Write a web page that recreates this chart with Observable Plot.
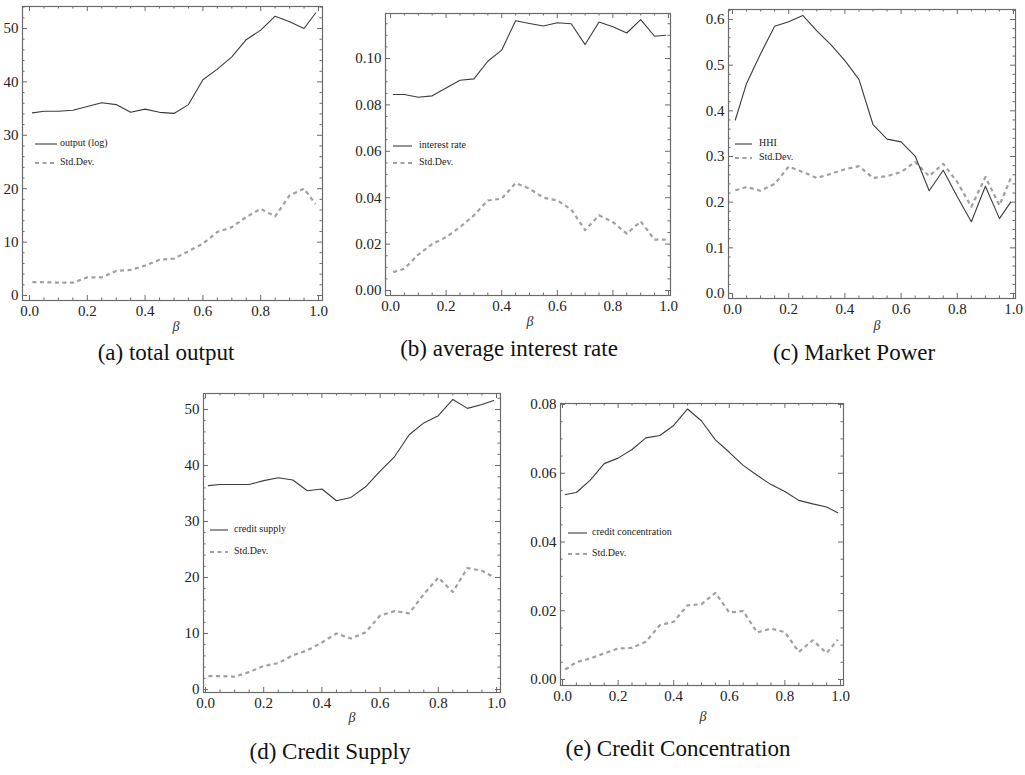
<!DOCTYPE html>
<html><head><meta charset="utf-8">
<script src="https://cdn.jsdelivr.net/npm/d3@7"></script>
<script src="https://cdn.jsdelivr.net/npm/@observablehq/plot@0.6"></script>
<style>
body{margin:0;background:#fff;}
#root{position:relative;width:1025px;height:775px;overflow:hidden;font-family:"Liberation Serif","DejaVu Serif",serif;background:#fff;}
.plotbox{position:absolute;}
.cap{position:absolute;font-size:23px;white-space:nowrap;transform:translate(-50%,-50%);color:#111;line-height:1;}
.beta{position:absolute;font-size:14px;font-style:italic;transform:translate(-50%,-50%);color:#333;line-height:1;}
.leg{position:absolute;font-size:10px;white-space:nowrap;color:#222;line-height:1;}
</style></head><body><div id="root"></div>
<script>
// ---- data ----
const beta = [0.01,0.05,0.10,0.15,0.20,0.25,0.30,0.35,0.40,0.45,0.50,0.55,0.60,0.65,0.70,0.75,0.80,0.85,0.90,0.95,0.99];

const outputLog = [34.2,34.5,34.5,34.7,35.4,36.1,35.75,34.3,34.9,34.3,34.1,35.75,40.4,42.4,44.7,47.9,49.7,52.3,51.25,50.0,52.9];
const outputSD  = [2.5,2.5,2.4,2.4,3.4,3.4,4.6,4.8,5.6,6.7,6.9,8.3,9.7,11.9,12.8,14.7,16.25,14.8,18.75,20.0,17.1];

const interestRate = [0.0845,0.0845,0.0833,0.0839,0.0873,0.0906,0.0912,0.0988,0.1036,0.1163,0.1151,0.1140,0.1154,0.1150,0.1060,0.1157,0.1137,0.1110,0.1168,0.1096,0.1100];
const interestSD   = [0.0079,0.0094,0.0155,0.0200,0.0230,0.0273,0.0324,0.0388,0.0396,0.0463,0.0439,0.0400,0.0388,0.0350,0.0260,0.0324,0.0295,0.0245,0.0298,0.0219,0.0219];

const hhi   = [0.380,0.460,0.525,0.585,0.595,0.609,0.575,0.545,0.510,0.469,0.370,0.338,0.332,0.301,0.225,0.270,0.212,0.157,0.235,0.164,0.200];
const hhiSD = [0.226,0.233,0.225,0.240,0.278,0.266,0.253,0.262,0.272,0.279,0.253,0.257,0.266,0.288,0.257,0.284,0.244,0.190,0.255,0.193,0.252];

const creditSupply = [36.4,36.6,36.6,36.6,37.3,37.8,37.4,35.5,35.8,33.7,34.3,36.2,39.0,41.6,45.5,47.6,48.9,51.8,50.2,50.9,51.6];
const creditSD     = [2.4,2.4,2.3,3.1,4.2,4.7,6.1,7.0,8.4,10.0,9.1,10.2,13.2,14.0,13.6,17.0,20.0,17.4,21.7,21.2,20.1];

const creditConc = [0.0538,0.0544,0.0580,0.0628,0.0644,0.0669,0.0703,0.0710,0.0739,0.0787,0.0752,0.0697,0.0661,0.0623,0.0594,0.0567,0.0547,0.0521,0.0511,0.0502,0.0485];
const concSD     = [0.0029,0.0051,0.0061,0.0076,0.0090,0.0092,0.0110,0.0158,0.0168,0.0216,0.0219,0.0252,0.0195,0.0199,0.0137,0.0148,0.0138,0.0080,0.0114,0.0077,0.0116];

const xTicks = [0,0.2,0.4,0.6,0.8,1.0];
const xMinorStep = 0.05;
const yTicksA = [0,10,20,30,40,50];
const yTicksB = [0,0.02,0.04,0.06,0.08,0.10];
const yTicksC = [0,0.1,0.2,0.3,0.4,0.5,0.6];
const yTicksD = [0,10,20,30,40,50];
const yTicksE = [0,0.02,0.04,0.06,0.08];

const mainLabels = ["output (log)","interest rate","HHI","credit supply","credit concentration"];
const sdLabel = "Std.Dev.";
const captions = ["(a) total output","(b) average interest rate","(c) Market Power","(d) Credit Supply","(e) Credit Concentration"];
const axisLabel = "β";

// ---- layout ----
const panels = [
  {main: outputLog, sd: outputSD, yTicks: yTicksA, yMinor: 2, fmt: d3.format("d"),
   L:22,R:322,T:6,B:300, x0:29,x1:318, y0px:295,y1px:28,
   leg:{x1:35,x2:57,tx:60,ya:144,yb:163}, beta:{x:176,y:327}, cap:{x:166,y:352}},
  {main: interestRate, sd: interestSD, yTicks: yTicksB, yMinor: 0.005, fmt: d3.format(".2f"),
   L:385,R:670,T:13,B:295, x0:390,x1:668, y0px:290,y1px:58,
   leg:{x1:393,x2:412,tx:419,ya:146,yb:163}, beta:{x:530,y:322}, cap:{x:509,y:348}},
  {main: hhi, sd: hhiSD, yTicks: yTicksC, yMinor: 0.02, fmt: d3.format(".1f"),
   L:728,R:1015,T:9,B:298, x0:732,x1:1013, y0px:293,y1px:19,
   leg:{x1:735,x2:752,tx:759,ya:144,yb:158}, beta:{x:877,y:326}, cap:{x:854,y:352}},
  {main: creditSupply, sd: creditSD, yTicks: yTicksD, yMinor: 2, fmt: d3.format("d"),
   L:203,R:500,T:393,B:692, x0:205,x1:496, y0px:689,y1px:409,
   leg:{x1:210,x2:228,tx:234,ya:530,yb:552}, beta:{x:352,y:718}, cap:{x:330,y:751}},
  {main: creditConc, sd: concSD, yTicks: yTicksE, yMinor: 0.005, fmt: d3.format(".2f"),
   L:560,R:843,T:403,B:685, x0:562,x1:840, y0px:679,y1px:404,
   leg:{x1:568,x2:587,tx:592,ya:533,yb:554}, beta:{x:703,y:717}, cap:{x:678,y:748}}
];

const root = document.getElementById("root");
const FRAME = "#6b6b6b";
const MAINC = "#3c3c3c";
const SDC = "#a0a0a0";
const DASH = "4,3.5";

function minorTicks(lo, hi, step, majors) {
  const a = Math.ceil(lo / step - 1e-6), b = Math.floor(hi / step + 1e-6);
  return d3.range(a, b + 1).map(k => +(k * step).toFixed(6))
    .filter(v => !majors.some(t => Math.abs(t - v) < step * 1e-3));
}

panels.forEach((p, idx) => {
  const mL = 46, mR = 6, mT = 6, mB = 26;
  const fw = p.R - p.L, fh = p.B - p.T;
  const width = fw + mL + mR, height = fh + mT + mB;
  const yv = [p.yTicks[0], p.yTicks[p.yTicks.length - 1]];
  const yAt = px => yv[0] + (px - p.y0px) * (yv[1] - yv[0]) / (p.y1px - p.y0px);
  const xAt = px => (px - p.x0) / (p.x1 - p.x0);
  const yMinor = minorTicks(yAt(p.B), yAt(p.T), p.yMinor, p.yTicks);
  const xMinor = minorTicks(xAt(p.L), xAt(p.R), xMinorStep, xTicks);
  const data = beta.map((b, i) => ({b, v: p.main[i], s: p.sd[i]}));
  const MJ = 5, MN = 2.5;
  const tickStyle = {stroke: FRAME, strokeWidth: 1};
  const chart = Plot.plot({
    width, height, marginLeft: mL, marginRight: mR, marginTop: mT, marginBottom: mB,
    style: {fontFamily: '"Liberation Serif", serif', fontSize: "15px", color: "#222", background: "transparent", overflow: "visible"},
    x: {domain: [0, 1], range: [p.x0 - p.L + mL, p.x1 - p.L + mL]},
    y: {domain: yv, range: [p.y0px - p.T + mT, p.y1px - p.T + mT]},
    marks: [
      Plot.ruleX(xTicks, {...tickStyle, insetTop: fh - MJ}),
      Plot.ruleX(xTicks, {...tickStyle, insetBottom: fh - MJ}),
      Plot.ruleX(xMinor, {...tickStyle, insetTop: fh - MN}),
      Plot.ruleX(xMinor, {...tickStyle, insetBottom: fh - MN}),
      Plot.ruleY(p.yTicks, {...tickStyle, insetRight: fw - MJ}),
      Plot.ruleY(p.yTicks, {...tickStyle, insetLeft: fw - MJ}),
      Plot.ruleY(yMinor, {...tickStyle, insetRight: fw - MN}),
      Plot.ruleY(yMinor, {...tickStyle, insetLeft: fw - MN}),
      Plot.line(data, {x: "b", y: "s", stroke: SDC, strokeWidth: 2.2, strokeDasharray: DASH, strokeLinecap: "butt"}),
      Plot.line(data, {x: "b", y: "v", stroke: MAINC, strokeWidth: 1.1}),
      Plot.frame({stroke: FRAME, strokeWidth: 1.2}),
      Plot.axisX({ticks: xTicks, tickSize: 0, tickPadding: 5, tickFormat: d3.format(".1f"), label: null}),
      Plot.axisY({ticks: p.yTicks, tickSize: 0, tickPadding: 4, tickFormat: p.fmt, label: null})
    ]
  });
  const box = document.createElement("div");
  box.className = "plotbox";
  box.style.left = (p.L - mL) + "px";
  box.style.top = (p.T - mT) + "px";
  box.appendChild(chart);
  root.appendChild(box);

  // legend
  const ns = "http://www.w3.org/2000/svg";
  const lg = document.createElementNS(ns, "svg");
  lg.setAttribute("width", 1025); lg.setAttribute("height", 775);
  lg.style.position = "absolute"; lg.style.left = "0"; lg.style.top = "0"; lg.style.pointerEvents = "none";
  [[p.leg.ya, MAINC, 1.1, null], [p.leg.yb, SDC, 2.2, DASH]].forEach(([y, c, w, da]) => {
    const ln = document.createElementNS(ns, "line");
    ln.setAttribute("x1", p.leg.x1); ln.setAttribute("x2", p.leg.x2);
    ln.setAttribute("y1", y); ln.setAttribute("y2", y);
    ln.setAttribute("stroke", c); ln.setAttribute("stroke-width", w);
    if (da) ln.setAttribute("stroke-dasharray", da);
    lg.appendChild(ln);
  });
  root.appendChild(lg);
  [[p.leg.ya, mainLabels[idx]], [p.leg.yb, sdLabel]].forEach(([y, t]) => {
    const d = document.createElement("div");
    d.className = "leg"; d.textContent = t;
    d.style.left = p.leg.tx + "px"; d.style.top = (y - 6) + "px";
    root.appendChild(d);
  });
  const bt = document.createElement("div");
  bt.className = "beta"; bt.textContent = axisLabel;
  bt.style.left = p.beta.x + "px"; bt.style.top = p.beta.y + "px";
  root.appendChild(bt);
  const cp = document.createElement("div");
  cp.className = "cap"; cp.textContent = captions[idx];
  cp.style.left = p.cap.x + "px"; cp.style.top = p.cap.y + "px";
  root.appendChild(cp);
});
</script>
</body></html>
